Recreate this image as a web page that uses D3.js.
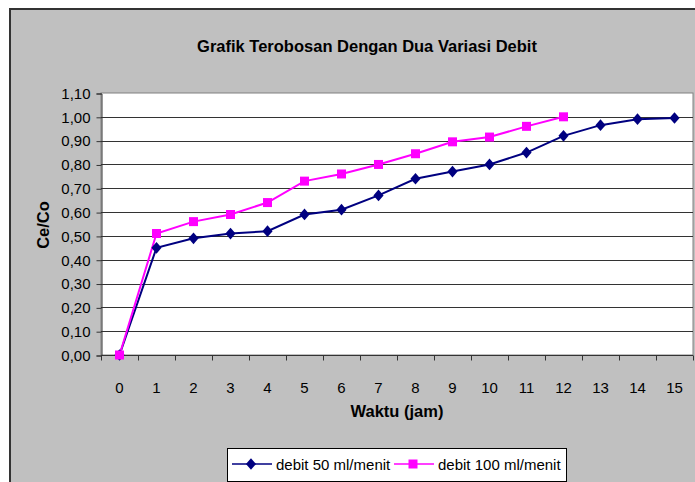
<!DOCTYPE html>
<meta charset="utf-8">
<style>
body {
    margin: 0px;
    background: white;
    overflow: hidden;
}
text {
  font-family: "Liberation Sans", Arial, sans-serif;
  fill: black;
}
</style>
<body>
<script src="https://d3js.org/d3.v7.min.js"></script>
<script>
var width = 695,
    height = 482;

// data
var hours = [0, 1, 2, 3, 4, 5, 6, 7, 8, 9, 10, 11, 12, 13, 14, 15];
var debit50 = [0.00, 0.45, 0.49, 0.51, 0.52, 0.59, 0.61, 0.67, 0.74, 0.77, 0.80, 0.85, 0.92, 0.965, 0.99, 0.995];
var debit100 = [0.00, 0.51, 0.56, 0.59, 0.64, 0.73, 0.76, 0.80, 0.845, 0.895, 0.915, 0.96, 1.00];
var yTicks = [0, 0.1, 0.2, 0.3, 0.4, 0.5, 0.6, 0.7, 0.8, 0.9, 1.0, 1.1];
var seriesNames = ["debit 50 ml/menit", "debit 100 ml/menit"];

var locale = d3.formatLocale({decimal: ",", thousands: ".", grouping: [3], currency: ["", ""]});
var fmt = locale.format(".2f");

var svg = d3.select("body").append("svg")
    .attr("width", width)
    .attr("height", height);

// chart area
svg.append("rect")
    .attr("x", 10).attr("y", 9)
    .attr("width", 700).attr("height", 490)
    .attr("fill", "#c0c0c0")
    .attr("stroke", "#333")
    .attr("stroke-width", 2);

var plot = {left: 101, right: 693, top: 93, bottom: 355};

var x = d3.scaleBand()
    .domain(hours)
    .range([plot.left, plot.right]);

var y = d3.scaleLinear()
    .domain([0, 1.1])
    .range([plot.bottom, plot.top]);

svg.append("rect")
    .attr("x", plot.left).attr("y", plot.top)
    .attr("width", plot.right - plot.left)
    .attr("height", plot.bottom - plot.top)
    .attr("fill", "white")
    .attr("stroke", "#808080");

// gridlines
svg.append("g")
  .selectAll("line")
  .data(yTicks.slice(1, -1))
  .enter().append("line")
    .attr("x1", plot.left).attr("x2", plot.right)
    .attr("y1", function(d) { return Math.round(y(d)) + 0.5; })
    .attr("y2", function(d) { return Math.round(y(d)) + 0.5; })
    .attr("stroke", "#333");

// y axis
var yAxis = svg.append("g")
    .attr("transform", "translate(" + (plot.left + 0.5) + ",0.5)")
    .call(d3.axisLeft(y).tickValues(yTicks).tickFormat(fmt).tickSize(5).tickPadding(6));
yAxis.select(".domain").attr("stroke", "#333");
yAxis.selectAll(".tick line").attr("stroke", "#333");
yAxis.selectAll("text")
    .style("font-size", "15px")
    .attr("fill", "black");

// x axis with ticks between categories
var xAxisG = svg.append("g")
    .attr("transform", "translate(0," + (plot.bottom + 0.5) + ")");
xAxisG.append("line")
    .attr("x1", plot.left).attr("x2", plot.right)
    .attr("stroke", "#333");
xAxisG.selectAll("line.tk")
    .data(hours.concat([16]))
    .enter().append("line")
    .attr("class", "tk")
    .attr("x1", function(d, i) { return Math.round(plot.left + i * x.step()) + 0.5; })
    .attr("x2", function(d, i) { return Math.round(plot.left + i * x.step()) + 0.5; })
    .attr("y1", 0).attr("y2", 5)
    .attr("stroke", "#333");
xAxisG.selectAll("text")
    .data(hours)
    .enter().append("text")
    .attr("x", function(d) { return x(d) + x.bandwidth() / 2; })
    .attr("y", 37)
    .attr("text-anchor", "middle")
    .style("font-size", "15px")
    .text(function(d) { return d; });

var cx = function(d, i) { return x(hours[i]) + x.bandwidth() / 2; };

var line = d3.line()
    .x(cx)
    .y(function(d) { return y(d); });

var diamond = d3.symbol().type(d3.symbolDiamond2).size(66);
var square = d3.symbol().type(d3.symbolSquare).size(81);

// debit 50
svg.append("path")
    .datum(debit50)
    .attr("d", line)
    .attr("fill", "none")
    .attr("stroke", "#000080")
    .attr("stroke-width", 2);

// debit 100
svg.append("path")
    .datum(debit100)
    .attr("d", line)
    .attr("fill", "none")
    .attr("stroke", "#ff00ff")
    .attr("stroke-width", 2);

svg.append("g").selectAll("path")
    .data(debit50)
    .enter().append("path")
    .attr("d", diamond)
    .attr("transform", function(d, i) { return "translate(" + cx(d, i) + "," + y(d) + ") scale(1,1.15)"; })
    .attr("fill", "#000080");

svg.append("g").selectAll("path")
    .data(debit100)
    .enter().append("path")
    .attr("d", square)
    .attr("transform", function(d, i) { return "translate(" + cx(d, i) + "," + y(d) + ")"; })
    .attr("fill", "#ff00ff");

// title and axis labels
svg.append("text")
    .attr("x", 367).attr("y", 52)
    .attr("text-anchor", "middle")
    .style("font-size", "16.5px")
    .style("font-weight", "bold")
    .text("Grafik Terobosan Dengan Dua Variasi Debit");

svg.append("text")
    .attr("transform", "translate(49,225) rotate(-90)")
    .attr("text-anchor", "middle")
    .style("font-size", "16.5px")
    .style("font-weight", "bold")
    .text("Ce/Co");

svg.append("text")
    .attr("x", 397).attr("y", 417)
    .attr("text-anchor", "middle")
    .style("font-size", "16.5px")
    .style("font-weight", "bold")
    .text("Waktu (jam)");

// legend
var legend = svg.append("g");
legend.append("rect")
    .attr("x", 227.5).attr("y", 448.5)
    .attr("width", 339).attr("height", 33)
    .attr("fill", "white")
    .attr("stroke", "black");

var legendItems = [
  {x: 232, color: "#000080", sym: diamond, sc: "scale(1,1.15)"},
  {x: 394, color: "#ff00ff", sym: square, sc: ""}
];

var li = legend.selectAll("g.item")
    .data(legendItems)
    .enter().append("g")
    .attr("class", "item")
    .attr("transform", function(d) { return "translate(" + d.x + ",464)"; });
li.append("line")
    .attr("x1", 0).attr("x2", 40)
    .attr("stroke", function(d) { return d.color; })
    .attr("stroke-width", 1.5);
li.append("path")
    .attr("d", function(d) { return d.sym(); })
    .attr("transform", function(d) { return "translate(19,0) " + d.sc; })
    .attr("fill", function(d) { return d.color; });
li.append("text")
    .attr("x", 44).attr("y", 5.5)
    .style("font-size", "15px")
    .text(function(d, i) { return seriesNames[i]; });
</script>
</body>
</html>
